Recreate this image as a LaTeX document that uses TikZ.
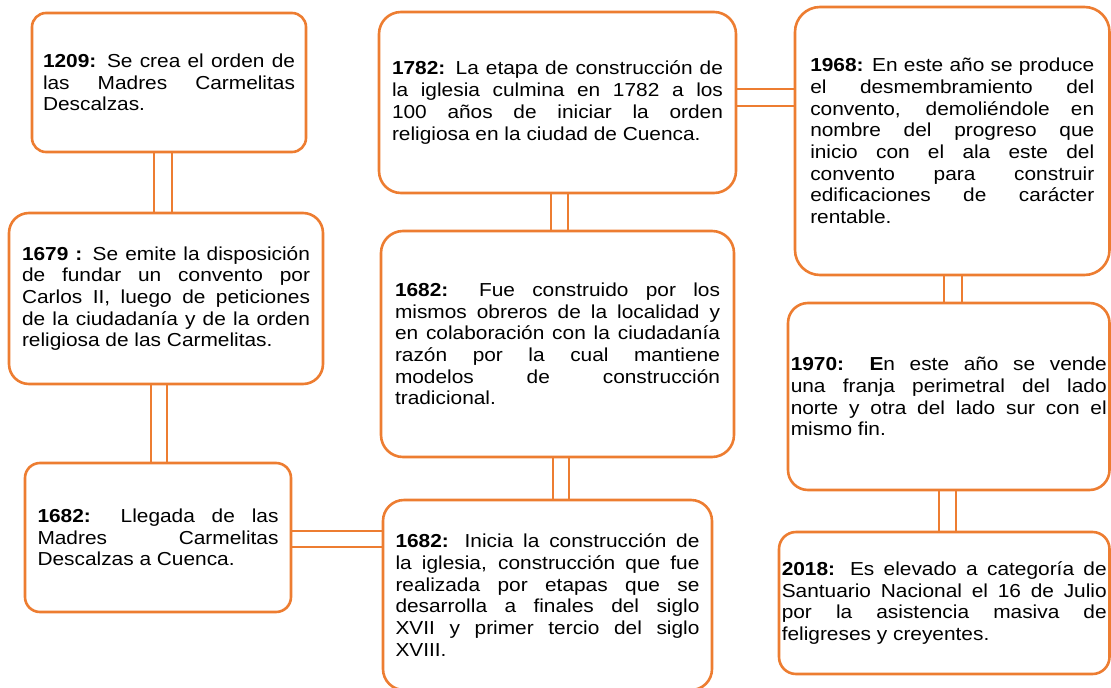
\documentclass[tikz,border=0pt]{standalone}
\usepackage{fontspec}
\setmainfont[FakeStretch=1.11]{Liberation Sans}
\definecolor{orng}{HTML}{ED7D31}
\newcommand\evfont{\fontsize{18.8}{21.7}\selectfont\tolerance=10000\hyphenpenalty=10000\exhyphenpenalty=10000}
\tikzset{
  evbox/.style={draw=orng, line width=2.6pt, fill=white, rounded corners=#1,
    inner xsep=0pt, inner ysep=0pt, align=justify, font=\evfont, text=black},
  evbox/.default=18pt,
  link/.style={draw=orng, line width=2.6pt},
}
\begin{document}
\begin{tikzpicture}[x=1pt,y=-1pt]
\useasboundingbox (0,0) rectangle (1111,688);

\node[evbox=14pt, minimum width=274pt, minimum height=139pt, text width=252pt] (b1) at (169,82.5)
  {\textbf{1209:} Se crea el orden de\linebreak las Madres Carmelitas\linebreak Descalzas.};
\node[evbox=20pt, minimum width=314pt, minimum height=171pt, text width=288pt] (b2) at (166,298.5)
  {\textbf{1679 :} Se emite la disposición\linebreak de fundar un convento por\linebreak Carlos II, luego de peticiones\linebreak de la ciudadanía y de la orden\linebreak religiosa de las Carmelitas.};
\node[evbox=15pt, minimum width=266pt, minimum height=149pt, text width=241pt] (b3) at (158,537.5)
  {\textbf{1682:} Llegada de las\linebreak Madres Carmelitas\linebreak Descalzas a Cuenca.};
\node[evbox=22pt, minimum width=357pt, minimum height=181pt, text width=331pt] (b4) at (557.5,102.5)
  {\textbf{1782:} La etapa de construcción de\linebreak la iglesia culmina en 1782 a los\linebreak 100 años de iniciar la orden\linebreak religiosa en la ciudad de Cuenca.};
\node[evbox=22pt, minimum width=353pt, minimum height=226pt, text width=325pt] (b5) at (557.5,344)
  {\textbf{1682:} Fue construido por los\linebreak mismos obreros de la localidad y\linebreak en colaboración con la ciudadanía\linebreak razón por la cual mantiene\linebreak modelos de construcción\linebreak tradicional.};
\node[evbox=21pt, minimum width=329pt, minimum height=190pt, text width=304pt] (b6) at (547.5,595)
  {\textbf{1682:} Inicia la construcción de\linebreak la iglesia, construcción que fue\linebreak realizada por etapas que se\linebreak desarrolla a finales del siglo\linebreak XVII y primer tercio del siglo\linebreak XVIII.};
\node[evbox=25pt, minimum width=314.5pt, minimum height=268pt, text width=284pt] (b7) at (952.25,141)
  {\textbf{1968:} En este año se produce\linebreak el desmembramiento del\linebreak convento, demoliéndole en\linebreak nombre del progreso que\linebreak inicio con el ala este del\linebreak convento para construir\linebreak edificaciones de carácter\linebreak rentable.};
\node[evbox=20pt, minimum width=321.5pt, minimum height=187pt, text width=316pt] (b8) at (948.75,396.5)
  {\leftskip=10pt\textbf{1970: E}n este año se vende\linebreak una franja perimetral del lado\linebreak norte y otra del lado sur con el\linebreak mismo fin.};
\node[evbox=17pt, minimum width=330.5pt, minimum height=142pt, text width=325pt] (b9) at (944.25,603)
  {\leftskip=9.5pt\textbf{2018:} Es elevado a categoría de\linebreak Santuario Nacional el 16 de Julio\linebreak por la asistencia masiva de\linebreak feligreses y creyentes.};

% connector end points
\path ([xshift=-15pt]b1.south) coordinate (c12a) ([xshift=3pt]b1.south) coordinate (c12b);
\path ([xshift=-15pt]b2.south) coordinate (c23a) ([xshift=1pt]b2.south) coordinate (c23b);
\path ([xshift=-6.5pt]b4.south) coordinate (c45a) ([xshift=10.5pt]b4.south) coordinate (c45b);
\path ([xshift=-4.5pt]b5.south) coordinate (c56a) ([xshift=11.5pt]b5.south) coordinate (c56b);
\path ([xshift=-8.25pt]b7.south) coordinate (c78a) ([xshift=9.75pt]b7.south) coordinate (c78b);
\path ([xshift=-9.75pt]b8.south) coordinate (c89a) ([xshift=7.25pt]b8.south) coordinate (c89b);
\path ([yshift=6.5pt]b3.east) coordinate (c36a) ([yshift=-9.5pt]b3.east) coordinate (c36b);
\path ([yshift=13.5pt]b4.east) coordinate (c47a) ([yshift=-3.5pt]b4.east) coordinate (c47b);

\draw[link] (c12a) -- (c12a |- b2.north) (c12b) -- (c12b |- b2.north);
\draw[link] (c23a) -- (c23a |- b3.north) (c23b) -- (c23b |- b3.north);
\draw[link] (c45a) -- (c45a |- b5.north) (c45b) -- (c45b |- b5.north);
\draw[link] (c56a) -- (c56a |- b6.north) (c56b) -- (c56b |- b6.north);
\draw[link] (c78a) -- (c78a |- b8.north) (c78b) -- (c78b |- b8.north);
\draw[link] (c89a) -- (c89a |- b9.north) (c89b) -- (c89b |- b9.north);
\draw[link] (c36a) -- (c36a -| b6.west) (c36b) -- (c36b -| b6.west);
\draw[link] (c47a) -- (c47a -| b7.west) (c47b) -- (c47b -| b7.west);
\end{tikzpicture}
\end{document}
